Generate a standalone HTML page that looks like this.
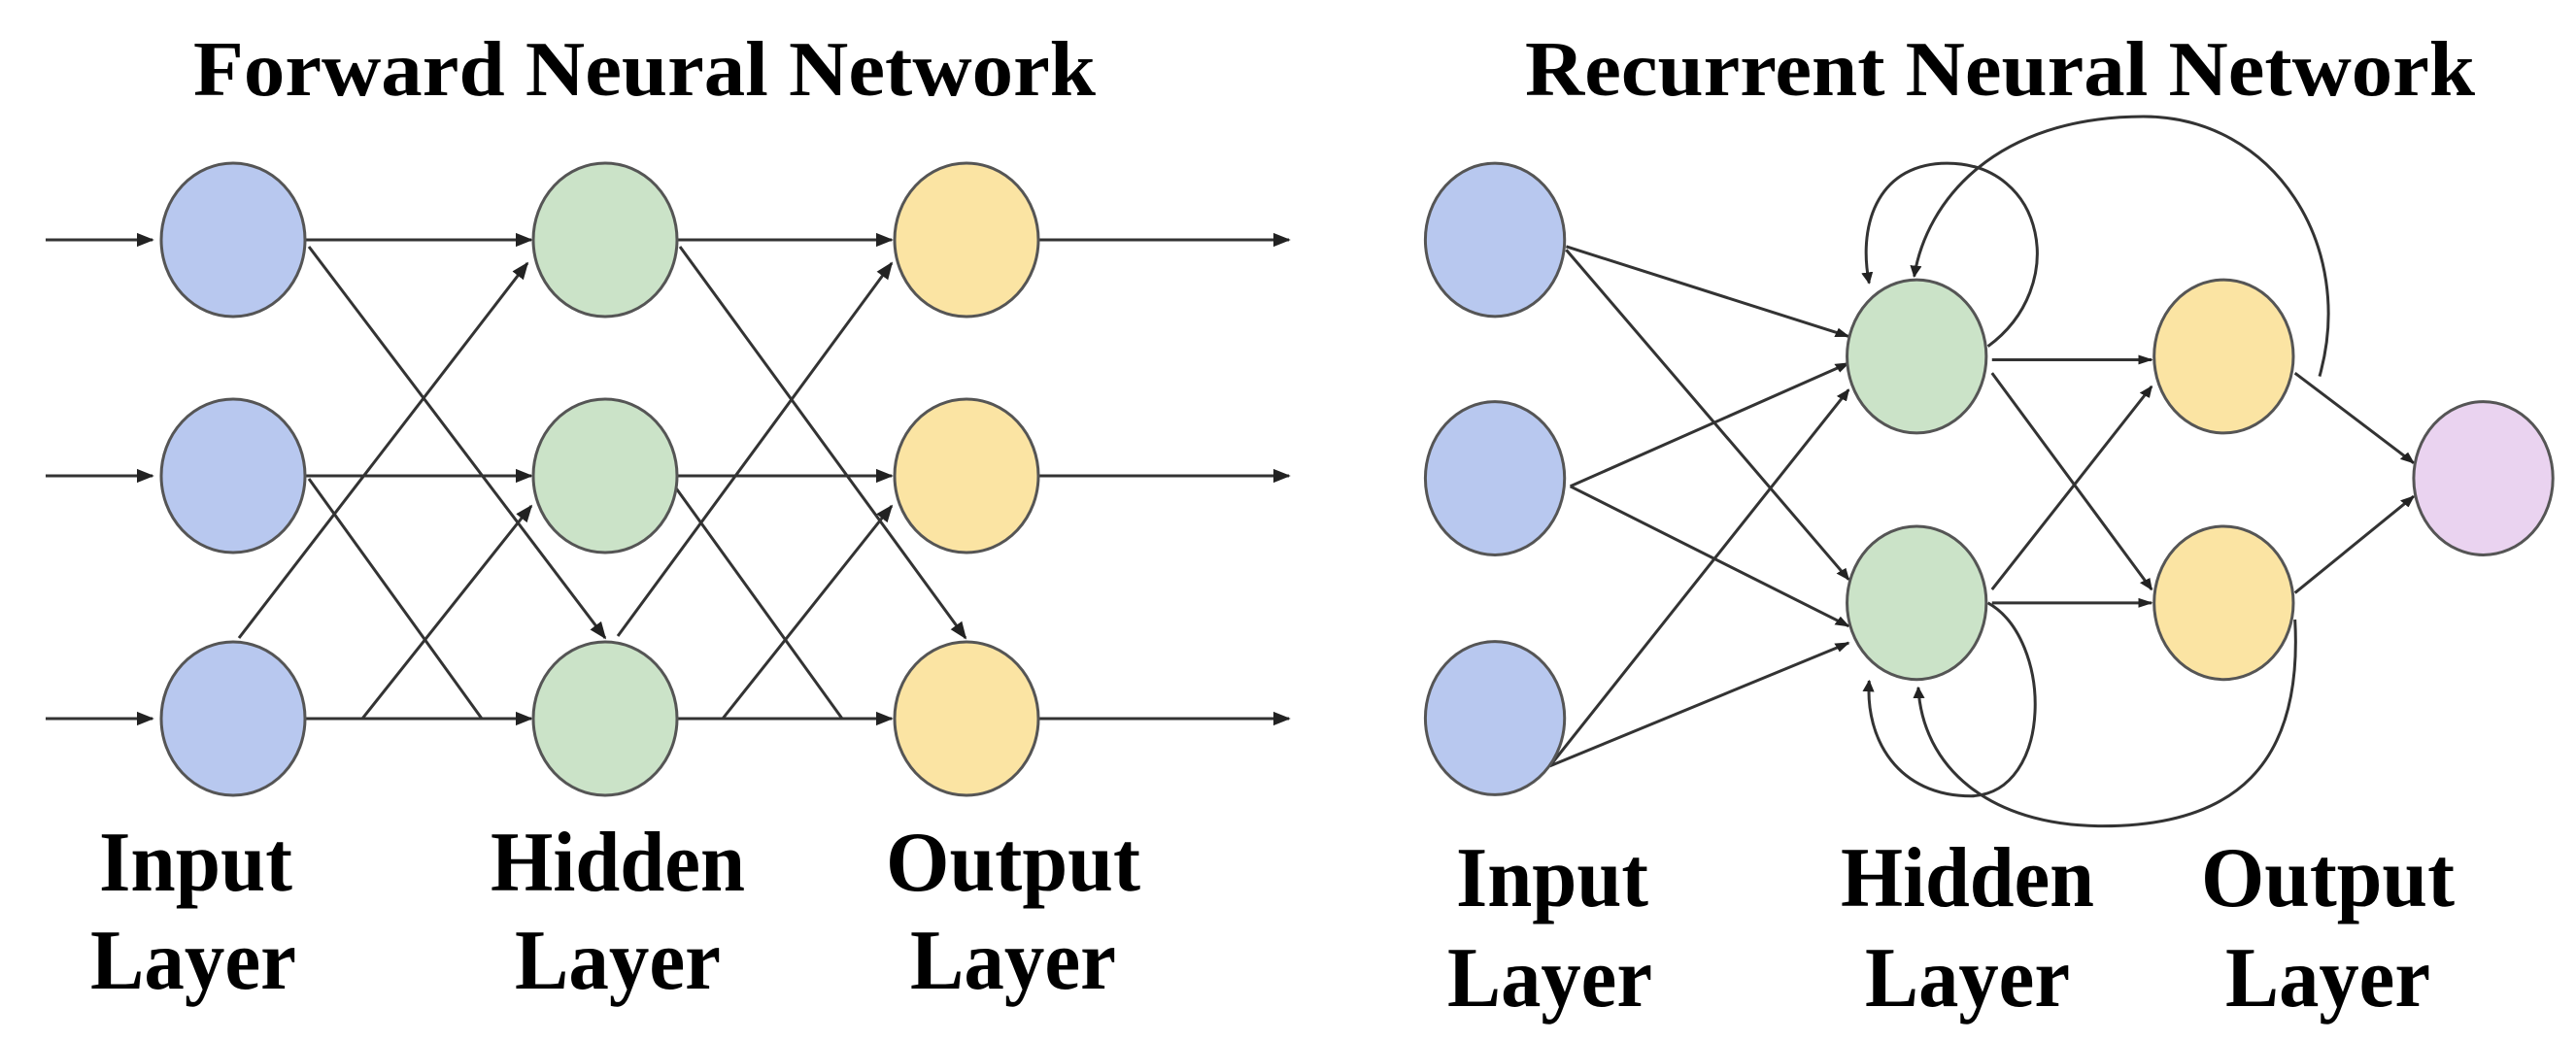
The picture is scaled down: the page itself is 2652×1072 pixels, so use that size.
<!DOCTYPE html>
<html><head><meta charset="utf-8"><style>
html,body{margin:0;padding:0;background:#fff;overflow:hidden;}
svg{display:block;}
text{font-family:"Liberation Serif",serif;font-weight:bold;fill:#000;}
</style></head><body>
<svg width="2652" height="1072" viewBox="0 0 2652 1072" xmlns="http://www.w3.org/2000/svg">
<defs>
<marker id="ar" viewBox="0 0 10 10" refX="9" refY="5" markerWidth="18" markerHeight="18" markerUnits="userSpaceOnUse" orient="auto"><path d="M0,1 L10,5 L0,9 z" fill="#222"/></marker>
</defs>
<rect width="2652" height="1072" fill="#fff"/>
<text x="199" y="98" font-size="80" textLength="929" lengthAdjust="spacingAndGlyphs">Forward Neural Network</text>
<text x="1570" y="98" font-size="80" textLength="978" lengthAdjust="spacingAndGlyphs">Recurrent Neural Network</text>

<g stroke="#333" stroke-width="3" fill="none" marker-end="url(#ar)">
<line x1="47" y1="247" x2="157" y2="247"/>
<line x1="47" y1="490" x2="157" y2="490"/>
<line x1="47" y1="740" x2="157" y2="740"/>
<line x1="314" y1="247" x2="547" y2="247"/>
<line x1="314" y1="490" x2="547" y2="490"/>
<line x1="314" y1="740" x2="547" y2="740"/>
<line x1="318" y1="254" x2="623" y2="657"/>
<line x1="246" y1="657" x2="543" y2="271"/>
<line x1="373" y1="740" x2="547" y2="521"/>
<line x1="697" y1="247" x2="918" y2="247"/>
<line x1="697" y1="490" x2="918" y2="490"/>
<line x1="697" y1="740" x2="918" y2="740"/>
<line x1="700" y1="254" x2="994" y2="657"/>
<line x1="636" y1="655" x2="918" y2="271"/>
<line x1="744" y1="740" x2="918" y2="521"/>
<line x1="1069" y1="247" x2="1327" y2="247"/>
<line x1="1069" y1="490" x2="1327" y2="490"/>
<line x1="1069" y1="740" x2="1327" y2="740"/>
</g>
<g stroke="#333" stroke-width="3" fill="none">
<line x1="318" y1="493" x2="496" y2="740"/>
<line x1="689" y1="493" x2="867" y2="740"/>
</g>
<g fill="#b8c8ef" stroke="#555" stroke-width="3">
<ellipse cx="240" cy="247" rx="74" ry="79"/>
<ellipse cx="240" cy="490" rx="74" ry="79"/>
<ellipse cx="240" cy="740" rx="74" ry="79"/>
</g>
<g fill="#cbe3c8" stroke="#555" stroke-width="3">
<ellipse cx="623" cy="247" rx="74" ry="79"/>
<ellipse cx="623" cy="490" rx="74" ry="79"/>
<ellipse cx="623" cy="740" rx="74" ry="79"/>
</g>
<g fill="#fbe4a3" stroke="#555" stroke-width="3">
<ellipse cx="995" cy="247" rx="74" ry="79"/>
<ellipse cx="995" cy="490" rx="74" ry="79"/>
<ellipse cx="995" cy="740" rx="74" ry="79"/>
</g>

<g transform="translate(1330,0) scale(0.843,0.686)">
<g stroke="#333" stroke-width="3" fill="none" marker-end="url(#ar)" vector-effect="non-scaling-stroke">
<line vector-effect="non-scaling-stroke" x1="335" y1="370" x2="680" y2="505"/>
<line vector-effect="non-scaling-stroke" x1="335" y1="375" x2="680" y2="870"/>
<line vector-effect="non-scaling-stroke" x1="340" y1="730" x2="680" y2="545"/>
<line vector-effect="non-scaling-stroke" x1="340" y1="730" x2="680" y2="940"/>
<line vector-effect="non-scaling-stroke" x1="315" y1="1150" x2="680" y2="585"/>
<line vector-effect="non-scaling-stroke" x1="315" y1="1150" x2="680" y2="965"/>
<line vector-effect="non-scaling-stroke" x1="855" y1="540" x2="1050" y2="540"/>
<line vector-effect="non-scaling-stroke" x1="855" y1="560" x2="1050" y2="885"/>
<line vector-effect="non-scaling-stroke" x1="855" y1="905" x2="1050" y2="905"/>
<line vector-effect="non-scaling-stroke" x1="855" y1="885" x2="1050" y2="580"/>
<line vector-effect="non-scaling-stroke" x1="1225" y1="560" x2="1370" y2="695"/>
<line vector-effect="non-scaling-stroke" x1="1225" y1="890" x2="1370" y2="745"/>
<path vector-effect="non-scaling-stroke" d="M 850 520 C 950 430, 920 245, 800 245 C 720 245, 690 330, 705 425"/>
<path vector-effect="non-scaling-stroke" d="M 1255 565 C 1300 370, 1200 175, 1040 175 C 860 175, 775 300, 760 415"/>
<path vector-effect="non-scaling-stroke" d="M 850 905 C 930 960, 930 1190, 830 1195 C 740 1195, 700 1110, 705 1022"/>
<path vector-effect="non-scaling-stroke" d="M 1225 930 C 1235 1150, 1150 1240, 990 1240 C 850 1240, 770 1150, 765 1032"/>
</g>
<g stroke="#555" stroke-width="3">
<ellipse vector-effect="non-scaling-stroke" cx="248" cy="360" rx="85" ry="115" fill="#b8c8ef"/>
<ellipse vector-effect="non-scaling-stroke" cx="248" cy="718" rx="85" ry="115" fill="#b8c8ef"/>
<ellipse vector-effect="non-scaling-stroke" cx="248" cy="1078" rx="85" ry="115" fill="#b8c8ef"/>
<ellipse vector-effect="non-scaling-stroke" cx="763" cy="535" rx="85" ry="115" fill="#cbe3c8"/>
<ellipse vector-effect="non-scaling-stroke" cx="763" cy="905" rx="85" ry="115" fill="#cbe3c8"/>
<ellipse vector-effect="non-scaling-stroke" cx="1138" cy="535" rx="85" ry="115" fill="#fbe4a3"/>
<ellipse vector-effect="non-scaling-stroke" cx="1138" cy="905" rx="85" ry="115" fill="#fbe4a3"/>
<ellipse vector-effect="non-scaling-stroke" cx="1455" cy="718" rx="85" ry="115" fill="#ead3f0"/>
</g>
</g>

<g font-size="88">
<text x="102" y="917" textLength="199" lengthAdjust="spacingAndGlyphs">Input</text>
<text x="93" y="1018" textLength="212" lengthAdjust="spacingAndGlyphs">Layer</text>
<text x="505" y="917" textLength="262" lengthAdjust="spacingAndGlyphs">Hidden</text>
<text x="530" y="1018" textLength="212" lengthAdjust="spacingAndGlyphs">Layer</text>
<text x="912" y="917" textLength="262" lengthAdjust="spacingAndGlyphs">Output</text>
<text x="937" y="1018" textLength="212" lengthAdjust="spacingAndGlyphs">Layer</text>
<text x="1499" y="933" textLength="198" lengthAdjust="spacingAndGlyphs">Input</text>
<text x="1490" y="1036" textLength="211" lengthAdjust="spacingAndGlyphs">Layer</text>
<text x="1895" y="933" textLength="261" lengthAdjust="spacingAndGlyphs">Hidden</text>
<text x="1920" y="1036" textLength="211" lengthAdjust="spacingAndGlyphs">Layer</text>
<text x="2266" y="933" textLength="261" lengthAdjust="spacingAndGlyphs">Output</text>
<text x="2291" y="1036" textLength="211" lengthAdjust="spacingAndGlyphs">Layer</text>
</g>
</svg>
</body></html>
